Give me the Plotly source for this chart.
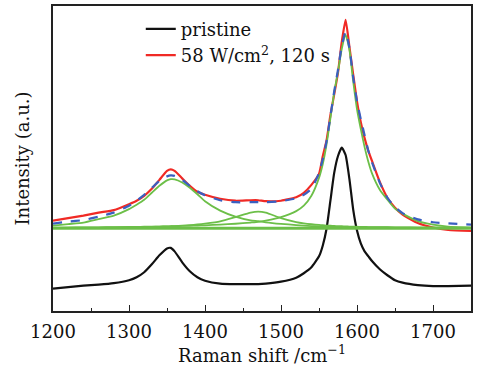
import plotly.graph_objects as go

# Raman shift grid (cm^-1)
wavenumber = [1200, 1220, 1240, 1260, 1280, 1300, 1310, 1320, 1330, 1340, 1350, 1355, 1360,
              1370, 1380, 1390, 1400, 1420, 1440, 1460, 1470, 1480, 1500, 1520, 1530, 1540,
              1550, 1555, 1560, 1565, 1570, 1575, 1580, 1585, 1590, 1595, 1600, 1605, 1610,
              1615, 1620, 1630, 1640, 1650, 1660, 1680, 1700, 1720, 1750]

pristine = [11.5, 13, 14.5, 15.5, 17, 20, 23, 28, 36, 45, 52, 52.5, 49,
            38, 29, 23, 19.5, 16.5, 16, 16, 16, 16.5, 18.5, 22.5, 27, 33,
            44, 55, 72, 100, 128, 145, 153.5, 146, 122, 91, 70, 57, 49,
            44, 39, 31, 25, 20, 17.5, 15, 14, 14, 14.5]

treated = [80, 82.5, 85, 88, 90.5, 96.5, 100, 105, 112, 121, 130, 131.5, 130,
           122.5, 115, 109, 106, 102, 100, 100.5, 100.5, 99.5, 100, 103.5, 108, 116,
           127, 145, 161, 186, 207, 229, 260, 282, 255, 227, 200, 179, 163,
           150, 139.5, 119, 103, 93, 86, 77.5, 73, 70.5, 69.5]

fit_sum = [77, 79, 80.5, 84, 88, 95, 100, 106, 113, 120, 124.5, 125.5, 125,
           121, 115, 109.5, 105.5, 100.5, 98.5, 98.5, 98.5, 98.5, 99.5, 102.5, 106, 112,
           128, 142, 160, 185, 210, 232, 256, 270, 254, 224, 200, 182, 166,
           150, 138, 118, 103, 93.5, 87.5, 81.2, 78.3, 77.3, 76]

fit_D = [75, 76.5, 78, 81.5, 85, 91.5, 96, 101, 108, 115, 120.5, 121.7, 121.5,
         118.3, 113, 106.5, 99.5, 90, 84, 80.2, 79.5, 78.3, 76.7, 75.5, 75, 74.5,
         74.2, 74, 73.9, 73.8, 73.7, 73.6, 73.5, 73.5, 73.4, 73.4, 73.3, 73.3, 73.2,
         73.2, 73.2, 73.1, 73.1, 73, 73, 72.9, 72.9, 72.8, 72.8]

fit_D3 = [72.7, 72.8, 72.9, 73, 73.2, 73.4, 73.5, 73.6, 73.7, 73.9, 74.2, 74.3, 74.5,
          74.9, 75.4, 76.1, 77, 79.3, 83.5, 88, 89, 88, 82.5, 78.5, 77.2, 76.3,
          75.6, 75.3, 75, 74.8, 74.6, 74.4, 74.3, 74.1, 74, 73.9, 73.8, 73.7, 73.6,
          73.5, 73.5, 73.4, 73.3, 73.2, 73.1, 73, 72.9, 72.8, 72.8]

fit_G = [72.8, 73, 73.1, 73.2, 73.4, 73.6, 73.7, 73.8, 73.9, 74, 74.2, 74.3, 74.4,
         74.6, 74.8, 75, 75.2, 76, 76.8, 78, 78.7, 80, 83.5, 89.5, 95, 105,
         123, 137, 157, 183, 209, 230, 253, 267, 252, 220, 192, 172, 154,
         139, 127, 111, 101, 92, 87, 79.5, 76, 74, 72.7]

baseline_x = [1200, 1750]
baseline_y = [72.3, 72.3]

x_ticks = [1200, 1300, 1400, 1500, 1600, 1700]

GREEN = "#6cbf48"
fig = go.Figure()

fig.add_trace(go.Scatter(x=wavenumber, y=pristine, mode="lines", name="pristine",
                         line=dict(color="#111111", width=2.2, shape="spline", smoothing=0.5)))
fig.add_trace(go.Scatter(x=wavenumber, y=treated, mode="lines",
                         name="58 W/cm<sup>2</sup>, 120 s",
                         line=dict(color="#f02a25", width=2.2, shape="spline", smoothing=0.5)))
fig.add_trace(go.Scatter(x=baseline_x, y=baseline_y, mode="lines", showlegend=False,
                         line=dict(color=GREEN, width=3)))
for comp in (fit_D, fit_D3, fit_G):
    fig.add_trace(go.Scatter(x=wavenumber, y=comp, mode="lines", showlegend=False,
                             line=dict(color=GREEN, width=1.8, shape="spline", smoothing=0.5)))
fig.add_trace(go.Scatter(x=wavenumber, y=fit_sum, mode="lines", showlegend=False,
                         line=dict(color="#3a5fc0", width=2.2, dash="dash",
                                   shape="spline", smoothing=0.5)))

SERIF = "DejaVu Serif"
fig.update_layout(
    width=483, height=369,
    margin=dict(l=53, r=12, t=4, b=58),
    paper_bgcolor="white", plot_bgcolor="white",
    font=dict(family=SERIF, size=18, color="#111111"),
    showlegend=True,
    legend=dict(x=0.21, y=0.985, xanchor="left", yanchor="top",
                bgcolor="rgba(255,255,255,0)", font=dict(family=SERIF, size=18),
                tracegroupgap=0, itemwidth=30),
    xaxis=dict(range=[1200, 1750], tickvals=x_ticks, ticks="inside", ticklen=6,
               tickwidth=1.3, tickcolor="#222", showline=True, linecolor="#222",
               linewidth=1.5, mirror=True, showgrid=False, zeroline=False,
               ticklabelstandoff=4,
               minor=dict(ticks="inside", ticklen=3, dtick=50, tickcolor="#222",
                          tickwidth=1.2, showgrid=False),
               tickfont=dict(family=SERIF, size=18),
               title=dict(text="Raman shift /cm<sup>−1</sup>", standoff=3,
                          font=dict(family=SERIF, size=18))),
    yaxis=dict(range=[-11, 296], showticklabels=False, ticks="", showline=True,
               linecolor="#222", linewidth=1.5, mirror=True, showgrid=False,
               zeroline=False,
               title=dict(text="Intensity (a.u.)", standoff=17,
                          font=dict(family=SERIF, size=18))),
)

fig.write_html("out.html")
